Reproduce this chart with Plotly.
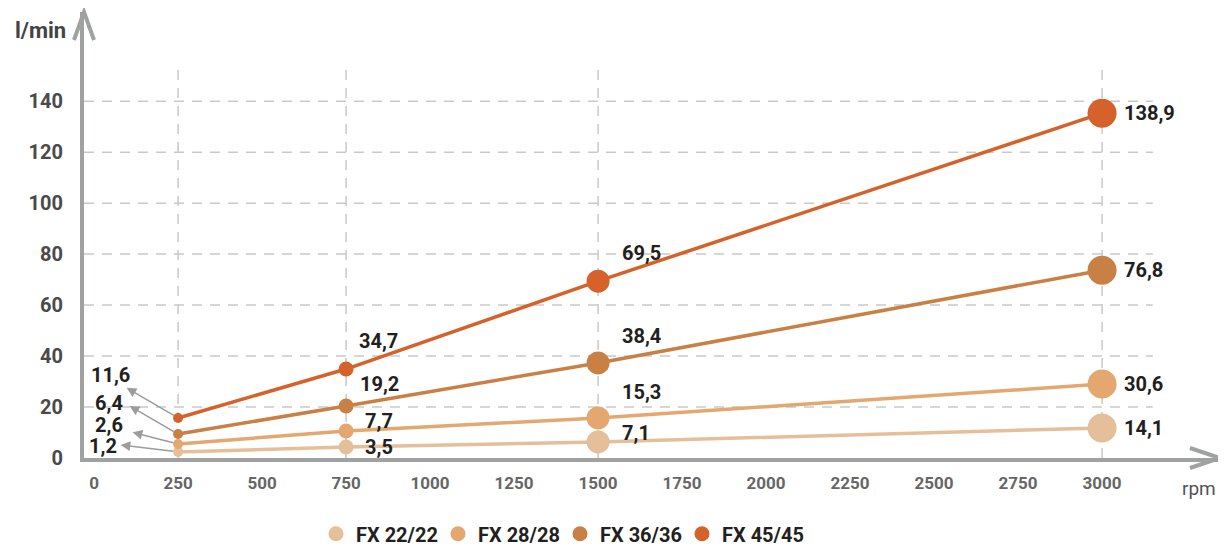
import plotly.graph_objects as go

# ---------------- data ----------------
rpm = [250, 750, 1500, 3000]
series_names = ["FX 22/22", "FX 28/28", "FX 36/36", "FX 45/45"]
fx22 = [2.4, 4.3, 6.3, 11.8]
fx28 = [5.5, 10.6, 15.7, 29.0]
fx36 = [9.4, 20.4, 37.3, 73.7]
fx45 = [15.7, 34.9, 69.4, 135.3]
lbl22 = ["1,2", "3,5", "7,1", "14,1"]
lbl28 = ["2,6", "7,7", "15,3", "30,6"]
lbl36 = ["6,4", "19,2", "38,4", "76,8"]
lbl45 = ["11,6", "34,7", "69,5", "138,9"]
x_ticks = [0, 250, 500, 750, 1000, 1250, 1500, 1750, 2000, 2250, 2500, 2750, 3000]
y_ticks = [0, 20, 40, 60, 80, 100, 120, 140]

# ---------------- styles ----------------
colors = ["#e4bf9a", "#e3a76f", "#c88045", "#d4622a"]
marker_sizes = [10, 15, 23, 29]
axis_col = "#a0a2a2"
grid_col = "#c9c9c9"
label_col = "#231f20"
FONT = "Roboto"

# per series label offsets (px) for points 1..3: (xshift, yshift up)
label_offsets = [
    [(17, 0), (22, 9), (20, 0)],
    [(17, 10), (22, 26), (20, 0)],
    [(12, 22), (22, 27), (20, 0)],
    [(11, 28), (22, 28), (20, 0)],
]
# first-point labels (text offset, arrow tip offset), in px (dx, dy down)
first_offsets = [
    ((-75, -6), (-59, -7)),
    ((-69, -19), (-47, -12)),
    ((-69, -31), (-50, -29)),
    ((-68, -43), (-53, -31)),
]

XMIN, XMAX = -30, 3351
YMIN, YMAX = 0, 175

fig = go.Figure()
all_vals = [fx22, fx28, fx36, fx45]
all_lbls = [lbl22, lbl28, lbl36, lbl45]

for name, vals, col in zip(series_names, all_vals, colors):
    fig.add_trace(go.Scatter(
        x=rpm, y=vals, mode="lines+markers", name=name, showlegend=False,
        line=dict(color=col, width=3.5),
        marker=dict(color=col, size=marker_sizes, opacity=1, line=dict(width=0)),
        hoverinfo="x+y", cliponaxis=False,
    ))
for name, col in zip(series_names, colors):
    fig.add_trace(go.Scatter(
        x=[None], y=[None], mode="markers", name=name, showlegend=True,
        marker=dict(color=col, size=15, opacity=1, line=dict(width=0)),
    ))

annotations = []
for si, (vals, lbls) in enumerate(zip(all_vals, all_lbls)):
    (tdx, tdy), (adx, ady) = first_offsets[si]
    annotations.append(dict(
        x=rpm[0], y=vals[0], xref="x", yref="y", text=lbls[0],
        showarrow=False, xshift=tdx, yshift=-tdy,
        font=dict(family=FONT, size=20, color=label_col, weight="bold"),
    ))
    annotations.append(dict(
        x=rpm[0], y=vals[0], xref="x", yref="y", text="",
        showarrow=True, ax=adx, ay=ady, arrowside="start",
        startarrowhead=2, startarrowsize=1.3, arrowwidth=1.5,
        arrowcolor="#9c9c9c", standoff=5,
    ))
    for pi in range(1, 4):
        dx, dy = label_offsets[si][pi - 1]
        annotations.append(dict(
            x=rpm[pi], y=vals[pi], xref="x", yref="y", text=lbls[pi],
            showarrow=False, xanchor="left", xshift=dx, yshift=dy,
            font=dict(family=FONT, size=20, color=label_col, weight="bold"),
        ))

annotations.append(dict(
    x=0, y=1, xref="paper", yref="paper", text="l/min", showarrow=False,
    xanchor="center", yanchor="middle", xshift=-44, yshift=-18,
    font=dict(family=FONT, size=22, color="#444444", weight="bold"),
))
annotations.append(dict(
    x=1, y=0, xref="paper", yref="paper", text="rpm", showarrow=False,
    xanchor="center", yanchor="middle", xshift=-21, yshift=-30,
    font=dict(family=FONT, size=19, color="#555555"),
))

shapes = []
for yv in y_ticks[1:]:
    shapes.append(dict(type="line", xref="x", yref="y", x0=XMIN, x1=3151, y0=yv, y1=yv,
                       line=dict(color=grid_col, width=1.5, dash="10px,8px"), layer="below"))
for xv in rpm:
    shapes.append(dict(type="line", xref="x", yref="y", x0=xv, x1=xv, y0=0, y1=155,
                       line=dict(color=grid_col, width=1.5, dash="10px,8px"), layer="below"))
# axis arrowheads (paper-referenced so they are not clipped)
shapes.append(dict(type="path", xref="paper", yref="paper", xsizemode="pixel", ysizemode="pixel",
                   xanchor=0, yanchor=1, path="M -10,-28 L 0,0 L 10,-28",
                   line=dict(color=axis_col, width=4)))
shapes.append(dict(type="path", xref="paper", yref="paper", xsizemode="pixel", ysizemode="pixel",
                   xanchor=1, yanchor=0, path="M -30,10 L 0,0 L -30,-10",
                   line=dict(color=axis_col, width=4)))

# the page body adds an 8px margin, so the figure is 8px smaller and its margins shifted
fig.update_layout(
    width=1218, height=540,
    margin=dict(l=76, r=6, t=4, b=90, autoexpand=False),
    paper_bgcolor="white", plot_bgcolor="white",
    showlegend=True,
    legend=dict(orientation="h", x=0.419, xanchor="center", y=-0.17, yanchor="middle",
                font=dict(family=FONT, size=20, color=label_col, weight="bold"),
                entrywidth=77, entrywidthmode="pixels", itemclick=False),
    annotations=annotations,
    shapes=shapes,
    xaxis=dict(range=[XMIN, XMAX], tickvals=x_ticks, ticktext=[str(v) for v in x_ticks],
               showgrid=False, zeroline=False, showline=True, linecolor=axis_col, linewidth=4,
               ticks="", ticklabelstandoff=7, automargin=False,
               tickfont=dict(family=FONT, size=17, color="#666666", weight="bold")),
    yaxis=dict(range=[YMIN, YMAX], tickvals=y_ticks, ticktext=[str(v) for v in y_ticks],
               showgrid=False, zeroline=False, showline=True, linecolor=axis_col, linewidth=4,
               ticks="", ticklabelstandoff=13, automargin=False,
               tickfont=dict(family=FONT, size=20, color="#4a4a4a", weight="bold")),
)

fig.write_html("out.html")
